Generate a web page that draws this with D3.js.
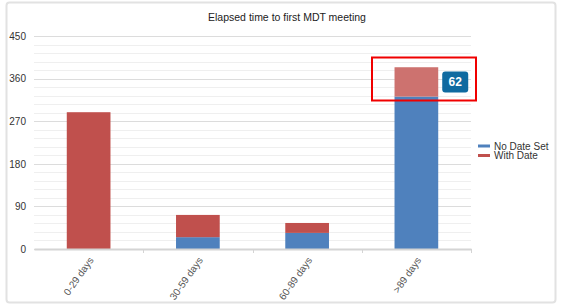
<!DOCTYPE html>
<html>
<head>
<meta charset="utf-8">
<script src="https://cdn.jsdelivr.net/npm/d3@7"></script>
<style>
  body { margin: 0; background: #fff; font-family: "Liberation Sans", Arial, sans-serif; }
</style>
</head>
<body>
<svg id="chart"></svg>
<script>
var w = 561;
var h = 308;

var categories = ['0-29 days', '30-59 days', '60-89 days', '>89 days'];
var noDateSet = [0, 25, 34, 322];
var withDate = [289, 47, 21, 62];
var seriesNames = ['No Date Set', 'With Date'];
var yTicks = [0, 90, 180, 270, 360, 450];
var highlightIndex = 3;

var colors = ['#4f81bd', '#c0504d'];

var margin = {left: 34, right: 90, top: 36, bottom: 59};
var plotW = w - margin.left - margin.right;
var plotH = h - margin.top - margin.bottom;

var svg = d3.select('#chart').attr('width', w).attr('height', h);

// outer frame
svg.append('rect')
  .attr('x', 6.5).attr('y', 2.5)
  .attr('width', 549).attr('height', 300)
  .attr('rx', 3)
  .style('fill', '#fff')
  .style('stroke', '#e2e2e2')
  .style('stroke-width', 2);

svg.append('text')
  .text('Elapsed time to first MDT meeting')
  .attr('x', 287).attr('y', 21)
  .attr('text-anchor', 'middle')
  .style('font-size', '10.5px')
  .style('fill', '#222');

var g = svg.append('g').attr('transform', 'translate(' + margin.left + ',' + margin.top + ')');

var x = d3.scaleBand().domain(categories).range([0, plotW]).paddingInner(0.6).paddingOuter(0.3);
var xOuter = d3.scaleBand().domain(categories).range([0, plotW]);
var y = d3.scaleLinear().domain([0, 450]).range([plotH, 0]);

// minor grid
g.selectAll('line.minor')
  .data(d3.range(0, 451, 18))
  .enter()
  .append('line')
  .attr('x1', 0).attr('x2', plotW)
  .attr('y1', function (d) { return Math.round(y(d)) + 0.5; })
  .attr('y2', function (d) { return Math.round(y(d)) + 0.5; })
  .style('stroke', '#efefef');

// major grid
g.selectAll('line.major')
  .data(yTicks)
  .enter()
  .append('line')
  .attr('x1', 0).attr('x2', plotW)
  .attr('y1', function (d) { return Math.round(y(d)) + 0.5; })
  .attr('y2', function (d) { return Math.round(y(d)) + 0.5; })
  .style('stroke', '#dcdcdc');

// y axis labels
var yAxis = d3.axisLeft(y).tickValues(yTicks).tickSize(0).tickPadding(8);
var ya = g.append('g').call(yAxis);
ya.select('.domain').remove();
ya.selectAll('text').style('font-size', '10px').style('fill', '#333').style('font-family', '"Liberation Sans", Arial, sans-serif');

// stacked bars
var stackData = categories.map(function (c, i) {
  return {cat: c, 'No Date Set': noDateSet[i], 'With Date': withDate[i]};
});
var stacked = d3.stack().keys(seriesNames)(stackData);

g.selectAll('g.series')
  .data(stacked)
  .enter()
  .append('g')
  .each(function (s, si) {
    d3.select(this).selectAll('rect')
      .data(s)
      .enter()
      .append('rect')
      .attr('x', function (d) { return x(d.data.cat); })
      .attr('width', x.bandwidth())
      .attr('y', function (d) { return y(d[1]); })
      .attr('height', function (d) { return y(d[0]) - y(d[1]); })
      .style('fill', function (d, i) {
        if (si === 1 && i === highlightIndex) return '#cd726f';
        return colors[si];
      });
  });

// x axis
var xAxis = d3.axisBottom(xOuter).tickSize(0).tickPadding(6);
var xa = g.append('g').attr('transform', 'translate(0,' + plotH + ')').call(xAxis);
xa.select('.domain').style('stroke', '#d4d4d4').style('stroke-width', 2);
xa.selectAll('text')
  .style('font-size', '10px')
  .style('fill', '#555')
  .style('font-family', '"Liberation Sans", Arial, sans-serif')
  .style('text-anchor', 'end')
  .attr('dy', '0.3em')
  .attr('transform', 'translate(-2,6) rotate(-55)');

// boundary ticks
g.selectAll('line.xtick')
  .data(categories)
  .enter()
  .append('line')
  .attr('x1', function (d) { return Math.round(xOuter(d) + xOuter.bandwidth()) + 0.5; })
  .attr('x2', function (d) { return Math.round(xOuter(d) + xOuter.bandwidth()) + 0.5; })
  .attr('y1', plotH).attr('y2', plotH + 4)
  .style('stroke', '#d4d4d4');

// legend
var legend = svg.append('g').attr('transform', 'translate(478,146)');
seriesNames.forEach(function (name, i) {
  legend.append('line')
    .attr('x1', 0).attr('x2', 12)
    .attr('y1', i * 9.5).attr('y2', i * 9.5)
    .style('stroke', colors[i]).style('stroke-width', 3);
  legend.append('text')
    .text(name)
    .attr('x', 16).attr('y', i * 9.5 + 3.5)
    .style('font-size', '10px')
    .style('fill', '#333');
});

// hover tooltip on highlighted segment
var hl = stacked[1][highlightIndex];
var tipX = margin.left + x(categories[highlightIndex]) + x.bandwidth() + 4;
var tipY = margin.top + (y(hl[1]) + y(hl[0])) / 2;
svg.append('rect')
  .attr('x', tipX).attr('y', tipY - 10.5)
  .attr('width', 26).attr('height', 21)
  .attr('rx', 3)
  .style('fill', '#0f6aa0');
svg.append('text')
  .text(withDate[highlightIndex])
  .attr('x', tipX + 13).attr('y', tipY + 4.5)
  .attr('text-anchor', 'middle')
  .style('font-size', '12px')
  .style('font-weight', 'bold')
  .style('fill', '#fff');

// annotation box
svg.append('rect')
  .attr('x', 372).attr('y', 57.5)
  .attr('width', 104).attr('height', 43)
  .style('fill', 'none')
  .style('stroke', '#f00000')
  .style('stroke-width', 2);
</script>
</body>
</html>
